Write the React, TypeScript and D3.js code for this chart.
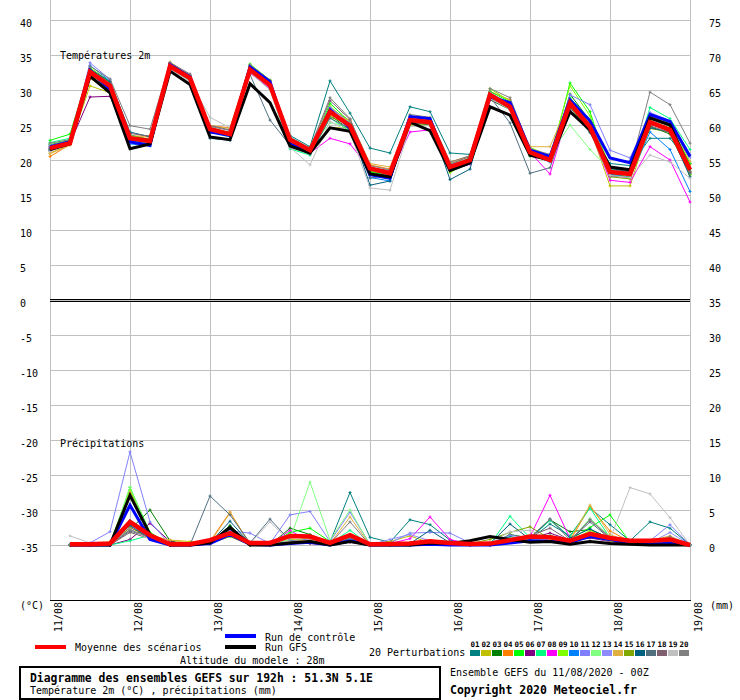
import React from 'react';
import * as d3 from 'd3';

// 6-hourly steps from 11/08 00Z to 19/08 00Z
const dates = ['11/08', '12/08', '13/08', '14/08', '15/08', '16/08', '17/08', '18/08', '19/08'];
const tempTicks = [40, 35, 30, 25, 20, 15, 10, 5, 0, -5, -10, -15, -20, -25, -30, -35];
const rightTicks = [75, 70, 65, 60, 55, 50, 45, 40, 35, 30, 25, 20, 15, 10, 5, 0];

const pertColors = [
  '#008080', '#c0c000', '#008000', '#ff8000', '#00ff00', '#800080', '#00ff80', '#ff00ff', '#80ff00', '#0080ff',
  '#8080ff', '#80ff80', '#8c8cff', '#e0b040', '#80a800', '#006080', '#507080', '#806070', '#c0c0c0', '#808080',
];

// temperature 2m (°C), 33 points
const tempMean = [21.7, 22.4, 32.6, 30.6, 23.1, 22.7, 33.4, 31.7, 24.4, 23.7, 32.9, 30.7, 22.9, 21.4, 26.9, 24.9, 18.8, 18.1, 25.7, 25.4, 19.0, 20.0, 29.3, 27.6, 21.1, 20.0, 28.1, 24.7, 18.3, 18.0, 25.4, 24.3, 18.6];
const tempGfs = [21.5, 22.3, 32.0, 29.6, 21.6, 22.3, 32.7, 30.8, 23.3, 22.9, 30.9, 28.2, 22.0, 21.0, 24.6, 24.1, 18.0, 17.6, 25.4, 24.2, 18.5, 19.6, 27.6, 26.4, 20.7, 20.0, 26.9, 24.3, 19.0, 18.6, 26.0, 25.0, 18.6];
const tempControl = [21.9, 22.6, 32.8, 30.0, 22.6, 22.1, 33.6, 31.9, 24.0, 23.5, 33.3, 31.2, 22.3, 21.2, 27.2, 24.6, 17.9, 17.4, 26.2, 25.9, 18.6, 19.6, 29.0, 28.2, 21.4, 20.5, 28.6, 25.6, 20.3, 19.6, 26.5, 25.5, 20.5];
const tempPerts = [
  [21.9, 22.8, 32.9, 31.0, 23.6, 22.9, 33.6, 31.9, 24.2, 23.4, 33.1, 30.9, 23.5, 21.9, 31.3, 26.7, 21.7, 21.0, 27.6, 26.9, 21.0, 20.8, 29.6, 28.0, 21.3, 20.4, 27.5, 24.0, 19.5, 19.2, 23.1, 23.1, 19.5],
  [21.0, 22.2, 30.6, 29.6, 23.0, 22.6, 33.5, 31.5, 24.6, 23.9, 33.3, 30.4, 22.5, 21.3, 24.6, 24.6, 18.5, 18.3, 25.0, 25.0, 19.2, 20.1, 29.0, 27.4, 21.3, 20.3, 27.8, 24.5, 16.3, 16.3, 25.2, 24.6, 18.0],
  [22.2, 22.9, 32.3, 30.2, 23.4, 22.9, 33.2, 31.4, 23.9, 23.6, 33.5, 31.0, 22.6, 21.3, 26.4, 24.3, 18.2, 17.9, 25.4, 25.0, 18.8, 19.7, 28.6, 27.2, 20.8, 20.1, 29.4, 25.6, 17.8, 17.6, 24.8, 23.7, 17.9],
  [20.5, 22.2, 31.6, 30.8, 23.3, 23.3, 33.9, 31.9, 24.9, 24.6, 33.3, 31.2, 22.4, 21.1, 27.4, 25.6, 19.3, 18.7, 25.6, 25.6, 19.7, 20.6, 29.8, 28.6, 21.1, 20.1, 28.8, 25.5, 18.4, 18.0, 26.3, 25.1, 19.4],
  [22.8, 23.7, 33.0, 31.1, 23.5, 22.9, 33.7, 32.0, 24.6, 23.9, 33.7, 31.4, 22.7, 21.2, 28.1, 25.4, 18.3, 17.8, 26.1, 25.6, 18.9, 20.4, 29.8, 28.3, 20.6, 19.9, 31.0, 26.9, 18.0, 17.6, 26.1, 25.0, 19.5],
  [21.3, 22.4, 29.0, 29.1, 22.9, 22.6, 33.1, 31.6, 24.3, 23.5, 32.7, 30.5, 22.4, 21.4, 26.7, 24.6, 18.6, 18.0, 25.3, 25.2, 18.9, 19.9, 29.0, 27.6, 20.9, 20.0, 28.4, 25.0, 18.1, 17.9, 25.1, 24.2, 18.2],
  [22.5, 23.1, 32.5, 30.4, 22.8, 22.4, 33.2, 31.3, 24.0, 23.3, 32.6, 30.1, 21.6, 20.7, 26.0, 24.1, 18.0, 17.3, 25.9, 25.1, 19.2, 20.2, 28.9, 27.4, 21.3, 20.4, 28.9, 25.8, 18.7, 18.1, 27.5, 25.9, 21.5],
  [21.8, 22.5, 32.3, 30.3, 22.9, 22.5, 33.2, 31.5, 24.1, 23.4, 32.4, 30.2, 22.2, 21.0, 23.1, 22.3, 18.7, 17.9, 24.0, 24.3, 18.6, 19.4, 28.9, 27.4, 21.1, 18.0, 27.6, 24.3, 17.1, 16.8, 21.9, 20.0, 14.0],
  [22.0, 22.7, 33.2, 31.2, 23.4, 22.8, 33.7, 32.1, 24.3, 23.7, 33.6, 31.4, 23.0, 21.5, 27.7, 25.2, 18.5, 17.9, 26.3, 25.9, 18.2, 19.8, 30.2, 28.4, 21.8, 20.6, 30.6, 26.3, 19.0, 18.6, 26.5, 25.0, 17.9],
  [21.6, 22.3, 33.5, 31.3, 22.3, 22.0, 33.9, 31.9, 24.4, 23.8, 33.0, 30.8, 22.7, 21.3, 26.9, 24.9, 17.5, 17.0, 25.5, 25.5, 18.6, 19.8, 29.5, 27.7, 20.8, 19.7, 28.1, 24.6, 18.0, 17.5, 24.0, 21.5, 15.5],
  [22.1, 22.4, 33.9, 31.5, 22.5, 22.2, 33.9, 32.2, 24.5, 23.7, 33.4, 30.9, 22.6, 21.4, 27.5, 25.3, 18.7, 18.2, 26.2, 25.6, 19.3, 20.2, 29.6, 28.0, 21.6, 20.5, 29.3, 27.9, 21.4, 20.3, 26.4, 25.2, 20.4],
  [22.3, 22.9, 32.6, 30.5, 23.1, 22.8, 33.2, 31.6, 24.6, 23.8, 33.0, 30.7, 23.1, 21.6, 25.3, 24.8, 18.9, 18.2, 25.6, 25.3, 19.6, 20.1, 29.1, 27.5, 20.5, 20.7, 25.0, 21.5, 18.6, 18.3, 25.9, 24.8, 18.8],
  [21.9, 22.6, 32.9, 30.9, 23.3, 22.8, 33.6, 31.8, 24.3, 23.6, 32.8, 30.5, 22.9, 21.5, 27.0, 25.0, 18.6, 17.8, 25.9, 25.5, 19.1, 20.0, 29.5, 27.8, 21.0, 19.9, 28.0, 24.8, 18.3, 17.9, 26.8, 25.6, 20.8],
  [20.9, 22.1, 31.6, 30.2, 23.4, 23.5, 34.0, 32.1, 24.9, 24.5, 33.4, 31.1, 22.6, 21.0, 26.3, 25.7, 19.5, 19.0, 26.0, 25.8, 19.6, 20.5, 29.4, 27.9, 21.9, 21.9, 28.6, 25.0, 18.2, 18.0, 25.8, 25.5, 19.8],
  [21.5, 22.2, 32.2, 30.1, 22.9, 22.7, 33.1, 31.5, 24.6, 23.9, 32.7, 30.6, 23.1, 21.6, 26.1, 25.1, 18.4, 18.0, 25.1, 25.2, 18.9, 19.9, 28.8, 27.3, 20.8, 20.1, 27.6, 24.1, 17.6, 17.3, 24.5, 24.0, 18.3],
  [21.4, 22.6, 33.0, 31.2, 24.0, 23.3, 33.8, 32.0, 23.1, 22.8, 33.1, 30.9, 22.2, 21.0, 27.1, 25.0, 16.4, 17.0, 25.8, 25.5, 17.2, 18.7, 29.0, 27.8, 21.4, 20.2, 28.3, 25.1, 18.8, 18.3, 24.6, 24.0, 17.6],
  [21.7, 22.3, 32.7, 30.5, 23.1, 22.7, 33.2, 31.6, 24.1, 23.5, 32.2, 25.7, 22.1, 20.8, 26.0, 24.4, 17.4, 17.9, 25.9, 25.5, 19.1, 20.0, 29.0, 25.3, 18.1, 18.9, 27.1, 23.9, 18.6, 18.4, 25.6, 24.5, 18.1],
  [21.6, 22.5, 32.4, 30.9, 23.8, 23.4, 33.6, 31.9, 24.9, 24.3, 33.1, 31.3, 23.1, 21.7, 28.5, 25.8, 18.9, 18.5, 25.4, 25.1, 19.4, 20.5, 28.6, 27.4, 20.6, 20.3, 27.2, 24.2, 17.7, 17.5, 24.9, 23.9, 18.4],
  [21.2, 22.2, 32.0, 30.4, 23.2, 22.8, 33.0, 31.2, 26.1, 24.6, 32.5, 30.0, 21.8, 19.3, 25.5, 24.0, 16.0, 15.7, 24.8, 24.9, 18.5, 19.5, 28.8, 27.2, 20.9, 19.8, 27.9, 24.4, 17.8, 17.5, 20.7, 19.7, 17.4],
  [22.4, 22.9, 33.4, 31.6, 24.9, 24.4, 33.9, 32.3, 24.8, 24.2, 33.6, 31.4, 23.3, 21.7, 28.9, 25.9, 19.2, 18.6, 26.5, 26.1, 19.7, 20.6, 30.2, 28.9, 21.6, 20.8, 28.5, 25.3, 19.0, 18.7, 29.7, 27.9, 22.4],
];

// precipitation (mm per 6h), 32 points from 11/08 06Z
const precMean = [0.1, 0.1, 0.2, 3.3, 1.4, 0.1, 0.1, 0.7, 1.7, 0.3, 0.3, 1.3, 1.2, 0.3, 1.4, 0.1, 0.15, 0.2, 0.55, 0.3, 0.15, 0.2, 0.7, 1.2, 1.1, 0.6, 1.6, 1.0, 0.6, 0.6, 0.8, 0.0];
const precGfs = [0, 0, 0, 7.1, 1.5, 0, 0, 0.3, 2.5, 0, 0, 0.3, 0.5, 0, 0.5, 0, 0, 0, 0.3, 0.2, 0.6, 1.2, 0.8, 0.4, 0.5, 0.1, 0.5, 0.2, 0.1, 0, 0, 0];
const precControl = [0, 0, 0, 5.7, 0.8, 0, 0, 0.2, 1.5, 0.1, 0, 0.2, 0.4, 0, 0.6, 0, 0, 0, 0.1, 0, 0, 0, 0.3, 0.6, 0.5, 0.4, 1.2, 0.8, 0.2, 0.1, 0.2, 0];
const precPerts = [
  [0, 0, 0, 3.0, 1.0, 0, 0, 0.4, 2.6, 0.2, 0, 0.3, 0.6, 0.4, 7.5, 1.1, 0.4, 3.6, 2.9, 0.7, 0.2, 0.3, 1.2, 0.8, 3.0, 1.3, 5.3, 2.9, 0.6, 3.3, 2.4, 0],
  [0, 0, 0.5, 3.2, 0.8, 0.7, 0.5, 0.2, 1.4, 0, 0, 0.8, 0.6, 0.2, 0.6, 0.1, 0.5, 1.3, 0.3, 0.1, 0, 0.2, 0.6, 1.1, 0.5, 0.3, 1.8, 0.7, 0.3, 0.2, 0.4, 0],
  [0, 0, 0, 2.2, 5.0, 0.6, 0, 0.3, 2.8, 0.1, 0, 2.4, 1.5, 0.3, 0.9, 0, 0, 0, 0.4, 0.2, 0.1, 0.1, 1.5, 1.0, 3.6, 1.9, 2.2, 1.0, 0.3, 0.4, 0.5, 0],
  [0, 0, 0.1, 7.9, 1.6, 0.2, 0, 0.5, 4.7, 0.1, 0, 0.4, 0.9, 0.2, 1.5, 0, 0, 0.2, 0.5, 0.1, 0, 0, 0.6, 0.9, 1.0, 0.6, 5.5, 2.0, 0.5, 0.4, 1.1, 0],
  [0, 0, 0, 8.2, 1.8, 0, 0, 0.2, 2.2, 0.1, 0, 1.8, 2.4, 0.5, 1.0, 0, 0, 0, 0.6, 0.1, 0.1, 0.1, 0.9, 1.3, 1.2, 0.8, 2.5, 4.3, 0.4, 0.3, 0.6, 0],
  [0, 0, 0, 0.8, 3.1, 0.5, 0, 0.1, 1.8, 0, 0, 0.3, 0.2, 0, 0.4, 0, 0, 0, 0.2, 0.1, 0, 0, 0.8, 1.0, 1.7, 0.7, 1.0, 0.5, 0.2, 0.1, 0.3, 0],
  [0, 0, 0, 0.6, 1.4, 0.1, 0, 0.2, 1.3, 0, 0, 0.3, 0.5, 0.2, 2.1, 0, 0, 0.3, 0.6, 0.2, 0, 0.1, 4.1, 1.0, 3.5, 1.2, 5.3, 1.0, 0.3, 0.5, 0.8, 0],
  [0, 0, 0, 2.5, 1.2, 0, 0, 0.3, 2.0, 0, 0, 2.1, 0.4, 0.1, 0.6, 0, 0.2, 0.9, 4.0, 0.8, 0.1, 0.1, 0.8, 1.2, 7.1, 0.9, 1.3, 0.5, 0.2, 0.1, 0.2, 0],
  [0, 0, 0, 7.8, 1.3, 0, 0, 0.2, 1.6, 0, 0, 0.5, 1.1, 0.3, 0.8, 0, 0, 0, 0.3, 0.1, 0, 0.1, 0.5, 1.0, 1.1, 0.4, 2.1, 0.6, 0.2, 0.3, 0.5, 0],
  [0, 0, 0, 3.5, 1.1, 0, 0, 0.3, 2.3, 0.1, 0, 0.4, 0.3, 0.1, 0.5, 0, 0, 0.1, 0.3, 0.1, 0, 0, 0.4, 0.7, 0.9, 0.5, 1.5, 0.8, 0.2, 0.2, 0.3, 0],
  [0.1, 0.3, 1.9, 13.3, 3.3, 0.1, 0, 0.3, 2.0, 1.7, 0.2, 4.3, 4.8, 0.5, 4.7, 0.1, 0.3, 1.7, 1.8, 1.7, 0.3, 0.2, 1.4, 1.0, 0.8, 0.5, 1.2, 0.6, 0.4, 0.6, 2.9, 0],
  [0, 0, 0, 8.3, 1.5, 0, 0, 0.2, 1.8, 0, 0, 0.8, 9.0, 0.7, 5.0, 0, 0, 0, 0.4, 0.2, 0, 0.2, 0.9, 0.8, 1.4, 0.6, 3.8, 1.2, 0.3, 0.4, 0.6, 0],
  [0, 0, 0, 3.0, 1.2, 0, 0, 0.2, 1.9, 0.1, 0, 0.6, 0.8, 0.2, 0.9, 0, 0.8, 1.5, 0.6, 0.3, 0.1, 0.1, 0.6, 0.9, 0.7, 0.4, 1.8, 0.7, 0.3, 0.3, 1.8, 0],
  [0, 0, 0, 7.5, 1.4, 0.7, 0.3, 0.3, 4.6, 0.1, 0, 0.5, 0.7, 0.2, 4.0, 0, 0, 0.1, 0.4, 0.1, 0, 0, 0.5, 0.8, 1.0, 0.8, 5.7, 1.5, 0.4, 0.6, 1.3, 0],
  [0, 0, 0, 2.5, 1.0, 0.3, 0, 0.2, 1.2, 0, 0, 0.4, 0.3, 0.1, 0.6, 0, 0, 0.3, 0.5, 0.4, 0.2, 0.8, 1.8, 2.6, 0.9, 0.5, 1.1, 0.6, 0.2, 0.2, 0.3, 0],
  [0, 0, 0, 2.8, 0.9, 0, 0, 0.3, 3.4, 0.2, 0, 0.4, 0.5, 0.1, 0.7, 0, 0, 0.2, 2.1, 0.3, 0.1, 0.2, 3.0, 0.8, 3.7, 1.0, 2.3, 0.9, 0.3, 0.3, 0.4, 0],
  [0, 0, 0, 2.0, 1.1, 0, 0, 7.0, 4.3, 0.3, 3.7, 0.6, 0.4, 0.2, 0.9, 0, 0, 0.1, 0.5, 0.2, 0, 0.1, 0.7, 0.9, 1.3, 0.7, 3.3, 0.9, 0.3, 0.3, 0.4, 0],
  [0, 0, 0, 1.8, 0.9, 0, 0, 0.2, 1.4, 0, 0, 0.3, 0.4, 0.1, 0.6, 0, 0, 0, 0.2, 0.1, 0, 0, 0.5, 1.3, 2.4, 0.6, 3.6, 1.0, 0.2, 0.2, 0.3, 0],
  [1.3, 0.3, 0, 2.3, 0.8, 0, 0, 0.2, 1.5, 0.2, 3.3, 0.5, 0.4, 0.1, 0.7, 0, 0, 0.1, 0.3, 0.1, 0, 0.3, 1.9, 2.1, 0.8, 0.6, 1.4, 0.8, 8.2, 7.3, 3.9, 0],
  [0, 0, 0, 2.2, 1.0, 0, 0, 0.2, 1.7, 0.1, 0, 0.4, 0.6, 0.2, 3.3, 0, 0, 0.1, 0.4, 0.2, 0, 0, 0.9, 1.1, 3.7, 0.7, 3.6, 1.1, 0.3, 0.4, 1.2, 0],
];

const FONT = '"DejaVu Sans Mono", monospace';

const x = d3.scaleLinear().domain([0, 32]).range([50, 690]);
const yT = d3.scaleLinear().domain([-35, 40]).range([545, 20]);
const yP = d3.scaleLinear().domain([0, 75]).range([545, 20]);

const tempLine = d3.line<number>().x((_, i) => x(i)).y((d) => yT(d));
const precLine = d3.line<number>().x((_, i) => x(i + 1)).y((d) => yP(d));

const crosses = (vals: number[], px: (i: number) => number, py: (v: number) => number) =>
  vals.map((v, i) => `M${px(i) - 1.5},${py(v)}h3M${px(i)},${py(v) - 1.5}v3`).join('');

const App = () => {
  const txt = { fontFamily: FONT, fontSize: 10, fill: '#000' } as const;

  return (
    <svg width={740} height={700} style={{ position: 'absolute', left: 0, top: 0, background: '#fff' }}>
      {/* grid */}
      <g stroke="#c0c0c0" strokeWidth={1} shapeRendering="crispEdges">
        {dates.map((d, i) => (
          <line key={d} x1={x(i * 4) + 0.5} x2={x(i * 4) + 0.5} y1={0} y2={600} />
        ))}
        {tempTicks.map((t) => (
          <line key={t} x1={50} x2={690} y1={yT(t) + 0.5} y2={yT(t) + 0.5} />
        ))}
      </g>
      <g stroke="#000" strokeWidth={1} shapeRendering="crispEdges">
        <line x1={50} x2={690} y1={yT(0) - 0.5} y2={yT(0) - 0.5} />
        <line x1={50} x2={690} y1={yT(0) + 1.5} y2={yT(0) + 1.5} />
        <line x1={50} x2={691} y1={600.5} y2={600.5} />
      </g>

      {/* temperature */}
      <g fill="none">
        {tempPerts.map((s, k) => (
          <g key={k} stroke={pertColors[k]} strokeWidth={1}>
            <path d={tempLine(s) || ''} />
            <path d={crosses(s, x, yT)} />
          </g>
        ))}
        <path d={tempLine(tempControl) || ''} stroke="#0000ff" strokeWidth={3} />
        <path d={tempLine(tempGfs) || ''} stroke="#000" strokeWidth={3} />
        <path d={tempLine(tempMean) || ''} stroke="#ff0000" strokeWidth={4.5} />
      </g>

      {/* precipitation */}
      <g fill="none">
        {precPerts.map((s, k) => (
          <g key={k} stroke={pertColors[k]} strokeWidth={1}>
            <path d={precLine(s) || ''} />
            <path d={crosses(s, (i) => x(i + 1), yP)} />
          </g>
        ))}
        <path d={precLine(precControl) || ''} stroke="#0000ff" strokeWidth={3} />
        <path d={precLine(precGfs) || ''} stroke="#000" strokeWidth={3} />
        <path d={precLine(precMean) || ''} stroke="#ff0000" strokeWidth={4.5} />
      </g>

      {/* axes labels */}
      <g style={txt}>
        {tempTicks.map((t) => (
          <text key={t} x={20} y={yT(t) + 7}>{t}</text>
        ))}
        {rightTicks.map((t, i) => (
          <text key={t} x={709} y={yT(tempTicks[i]) + 7}>{t}</text>
        ))}
        {dates.map((d, i) => (
          <text key={d} transform={`translate(${x(i * 4) + 12},602) rotate(-90)`} textAnchor="end">{d}</text>
        ))}
        <text x={20} y={609}>(°C)</text>
        <text x={710} y={609}>(mm)</text>
        <text x={60} y={59}>Températures 2m</text>
        <text x={60} y={447}>Précipitations</text>
      </g>

      {/* legend */}
      <g shapeRendering="crispEdges">
        <rect x={35} y={645} width={31} height={4} fill="#ff0000" />
        <rect x={225} y={634} width={31} height={4} fill="#0000ff" />
        <rect x={225} y={645} width={31} height={4} fill="#000" />
      </g>
      <g style={txt}>
        <text x={75} y={651}>Moyenne des scénarios</text>
        <text x={265} y={641}>Run de contrôle</text>
        <text x={265} y={651}>Run GFS</text>
        <text x={180} y={664}>Altitude du modele : 28m</text>
        <text x={369} y={655.5}>20 Perturbations</text>
        <text x={450} y={676}>Ensemble GEFS du 11/08/2020 - 00Z</text>
      </g>
      <g>
        {pertColors.map((c, k) => (
          <g key={k}>
            <rect x={470 + k * 11} y={650} width={10} height={6} fill={c} shapeRendering="crispEdges" />
            <text x={475 + k * 11} y={647} textAnchor="middle" style={{ fontFamily: FONT, fontSize: 7.5, fontWeight: 'bold' }}>
              {String(k + 1).padStart(2, '0')}
            </text>
          </g>
        ))}
      </g>
      <rect x={20} y={667} width={420} height={32} fill="none" stroke="#000" strokeWidth={2} shapeRendering="crispEdges" />
      <text x={30} y={681.5} style={{ fontFamily: FONT, fontSize: 11.4, fontWeight: 'bold' }}>
        Diagramme des ensembles GEFS sur 192h : 51.3N 5.1E
      </text>
      <text x={30} y={694} style={txt}>Température 2m (°C) , précipitations (mm)</text>
      <text x={450} y={694} style={{ fontFamily: FONT, fontSize: 11.5, fontWeight: 'bold' }}>
        Copyright 2020 Meteociel.fr
      </text>
    </svg>
  );
};

export default App;
